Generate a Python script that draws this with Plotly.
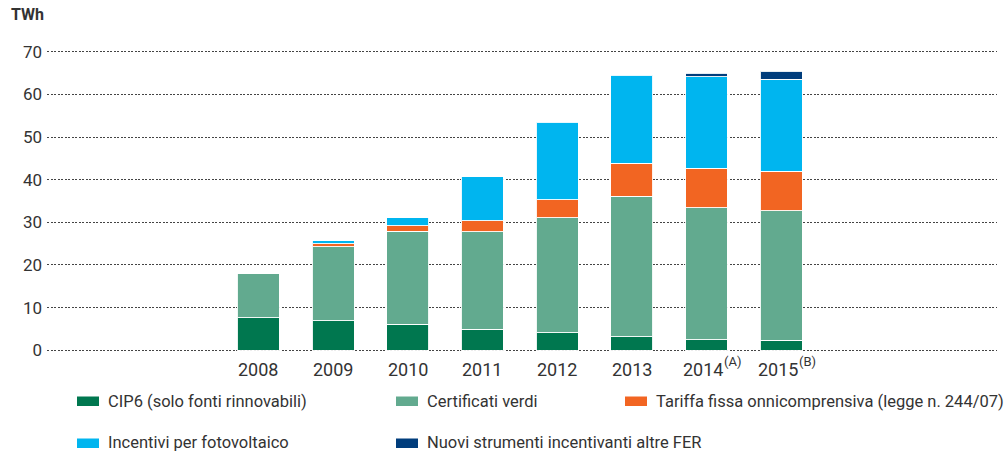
import plotly.graph_objects as go

years = [2008, 2009, 2010, 2011, 2012, 2013, 2014, 2015]
year_labels = ["2008", "2009", "2010", "2011", "2012", "2013", "2014", "2015"]
year_notes = ["", "", "", "", "", "", "(A)", "(B)"]

cip6 = [7.6, 6.9, 6.1, 4.9, 4.1, 3.2, 2.5, 2.35]
certificati = [10.4, 17.35, 21.8, 22.9, 26.95, 32.95, 30.9, 30.35]
tariffa = [None, 0.75, 1.35, 2.55, 4.25, 7.65, 9.3, 9.3]
fotovoltaico = [None, 0.65, 1.8, 10.35, 18.2, 20.7, 21.45, 21.6]
nuovi = [None, None, None, None, None, None, 0.75, 1.8]

series_names = [
    "CIP6 (solo fonti rinnovabili)",
    "Certificati verdi",
    "Tariffa fissa onnicomprensiva (legge n. 244/07)",
    "Incentivi per fotovoltaico",
    "Nuovi strumenti incentivanti altre FER",
]
series_values = [cip6, certificati, tariffa, fotovoltaico, nuovi]
colors = ["#00774F", "#62AA8F", "#F26522", "#00B5EF", "#003D7C"]

W, H = 1006, 456
ML, MR, MT, MB = 47, 9, 50, 104
PW, PH = W - ML - MR, H - MT - MB

def px_x(px):
    return (px - ML) / PW

def px_y(py):
    return (H - MB - py) / PH

fig = go.Figure()
for name, vals, col in zip(series_names, series_values, colors):
    fig.add_trace(go.Bar(
        x=years, y=vals, name=name, width=0.562,
        marker=dict(color=col, line=dict(color="rgba(255,255,255,0.9)", width=1)),
        showlegend=False,
    ))

# custom legend (swatches + labels)
legend_pos = [(77, 401), (396, 401), (625, 401), (77, 443), (396, 443)]
shapes = []
annotations = []
for (lx, ly), name, col in zip(legend_pos, series_names, colors):
    shapes.append(dict(type="rect", xref="paper", yref="paper",
                       x0=px_x(lx), x1=px_x(lx + 22), y0=px_y(ly + 5), y1=px_y(ly - 4.5),
                       fillcolor=col, line=dict(width=0)))
    annotations.append(dict(xref="paper", yref="paper", x=px_x(lx + 29), y=px_y(ly),
                            text=name, showarrow=False, xanchor="left", yanchor="middle",
                            font=dict(family="Roboto", size=16.5, color="#333333")))

# year labels (with superscript notes)
for yr, lab, note in zip(years, year_labels, year_notes):
    shift = -3.5 if note else 0
    annotations.append(dict(xref="x", yref="paper", x=yr, y=px_y(369.5), xshift=shift,
                            text=lab, showarrow=False, xanchor="center", yanchor="middle",
                            font=dict(family="Roboto", size=18, color="#333333")))
    if note:
        annotations.append(dict(xref="x", yref="paper", x=yr, y=px_y(361.5), xshift=15.5,
                                text=note, showarrow=False, xanchor="left", yanchor="middle",
                                font=dict(family="Roboto", size=13, color="#333333")))

# unit label
annotations.append(dict(xref="paper", yref="paper", x=px_x(9), y=px_y(15),
                        text="<b>TWh</b>", showarrow=False, xanchor="left", yanchor="middle",
                        font=dict(family="Roboto", size=16, color="#333333")))

fig.update_layout(
    width=W, height=H,
    margin=dict(l=ML, r=MR, t=MT, b=MB, pad=0),
    barmode="stack",
    plot_bgcolor="white", paper_bgcolor="white",
    font=dict(family="Roboto", color="#333333"),
    shapes=shapes, annotations=annotations,
    xaxis=dict(range=[2005.171, 2017.889], tickvals=years, showticklabels=False,
               showgrid=False, zeroline=False, showline=False, ticks=""),
    yaxis=dict(range=[-0.4, 70.4], tickvals=[0, 10, 20, 30, 40, 50, 60, 70],
               showgrid=True, gridcolor="#444444", gridwidth=1, griddash="2px,1.5px",
               zeroline=False, showline=False, ticks="", ticklabelstandoff=4,
               tickfont=dict(family="Roboto", size=17, color="#333333")),
)

fig.write_html("out.html", config={"displayModeBar": False},
               post_script="document.body.style.margin='0';")
